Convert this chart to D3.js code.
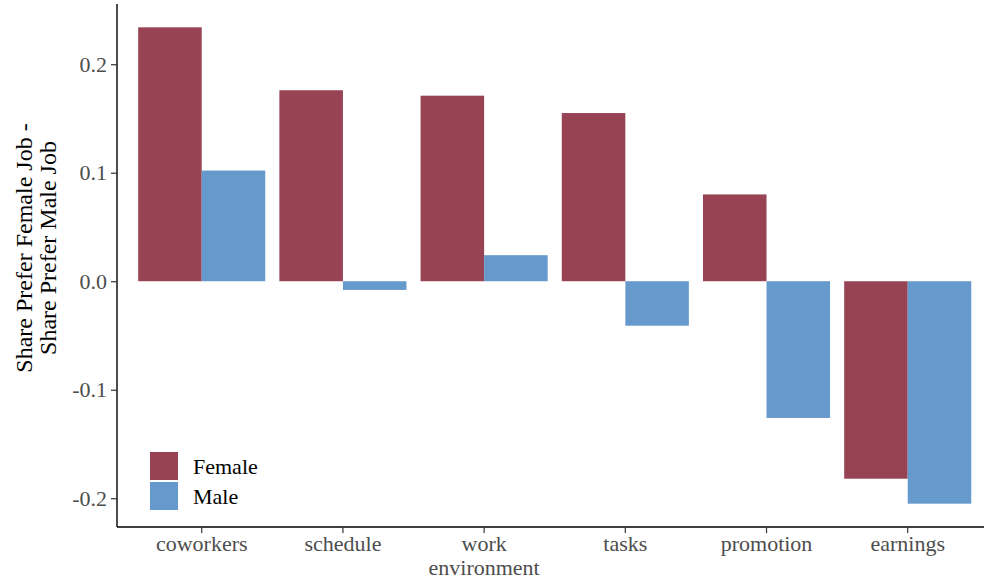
<!DOCTYPE html>
<html><head><meta charset="utf-8">
<script src="https://cdn.jsdelivr.net/npm/d3@7"></script>
<style>body{margin:0;background:#fff}svg{display:block}svg text{font-family:"Liberation Serif","Times New Roman",serif !important}</style>
</head><body>
<svg id="c" width="984" height="583"></svg>
<script>
const categories = ["coworkers","schedule","work environment","tasks","promotion","earnings"];
const femaleValues = [0.234, 0.176, 0.171, 0.155, 0.080, -0.182];
const maleValues = [0.102, -0.008, 0.024, -0.041, -0.126, -0.205];
const yTicks = [-0.2,-0.1,0.0,0.1,0.2];
const seriesNames = ["Female","Male"];
const colors = {Female:"#974354", Male:"#6699CC"};

(function(){
const svg = d3.select("#c");
const pLeft = 117, pTop = 4, pBottom = 527;
const step = 141.2;
const x = d3.scaleBand().domain(categories)
  .range([pLeft + 0.1*step, pLeft + 6.1*step]).paddingInner(0).paddingOuter(0);
const bw = x.bandwidth();
const xs = d3.scaleBand().domain(seriesNames).range([0.05*bw, 0.95*bw]).paddingOuter(0).paddingInner(0);
const y = d3.scaleLinear().domain([-0.2265, 0.2555]).range([pBottom, pTop]);

const data = categories.map((c,i)=>({cat:c, Female:femaleValues[i], Male:maleValues[i]}));
const g = svg.append("g");
data.forEach(d=>{
  seriesNames.forEach(s=>{
    const v = d[s];
    g.append("rect")
      .attr("x", x(d.cat) + xs(s))
      .attr("width", xs.bandwidth())
      .attr("y", y(Math.max(0,v)))
      .attr("height", Math.abs(y(v)-y(0)))
      .attr("fill", colors[s]);
  });
});

const serif = '"Liberation Serif","Times New Roman",serif';
const fmt = v => d3.format(".1f")(v).replace("\u2212","-");
// Y axis
const ya = svg.append("g").attr("transform",`translate(${pLeft},0)`)
  .call(d3.axisLeft(y).tickValues(yTicks).tickFormat(fmt).tickSize(6).tickPadding(4));
ya.attr("font-family", null);
ya.select(".domain").attr("d",`M0,${pTop}V${pBottom}`).attr("stroke","#000").attr("stroke-width",1.4);
ya.selectAll(".tick line").attr("stroke","#333").attr("stroke-width",1.2);
ya.selectAll(".tick text").attr("fill","#4D4D4D").style("font-size","22px").style("font-family",serif);

// X axis
const xa = svg.append("g").attr("transform",`translate(0,${pBottom})`)
  .call(d3.axisBottom(x).tickSize(6).tickPadding(2));
xa.attr("font-family", null);
xa.select(".domain").attr("d",`M${pLeft},0H984`).attr("stroke","#000").attr("stroke-width",1.4);
xa.selectAll(".tick line").attr("stroke","#333").attr("stroke-width",1.2);
xa.selectAll(".tick text").attr("fill","#4D4D4D").style("font-size","22px").style("font-family",serif)
  .each(function(d){
    const t = d3.select(this);
    const words = d.split(" ");
    if(words.length>1){
      t.text(null);
      words.forEach((w,i)=>t.append("tspan").attr("x",0).attr("dy", i===0? "0.71em":"1.13em").text(w));
      t.attr("dy",null);
    }
  });

// Y title
const yt = svg.append("text").attr("transform","translate(0,248) rotate(-90)")
  .attr("text-anchor","middle").style("font-size","24px").style("font-family",serif).attr("fill","#000");
yt.append("tspan").attr("x",0).attr("y",32).text("Share Prefer Female Job -");
yt.append("tspan").attr("x",0).attr("y",56).text("Share Prefer Male Job");

// Legend
const lg = svg.append("g").attr("transform","translate(150,452)");
seriesNames.forEach((s,i)=>{
  lg.append("rect").attr("x",0).attr("y",i*30).attr("width",28).attr("height",28).attr("fill",colors[s]);
  lg.append("text").attr("x",43).attr("y",i*30+14).attr("dy","0.35em").style("font-size","22px").style("font-family",serif).attr("fill","#000").text(s);
});
})();
</script>
</body></html>
